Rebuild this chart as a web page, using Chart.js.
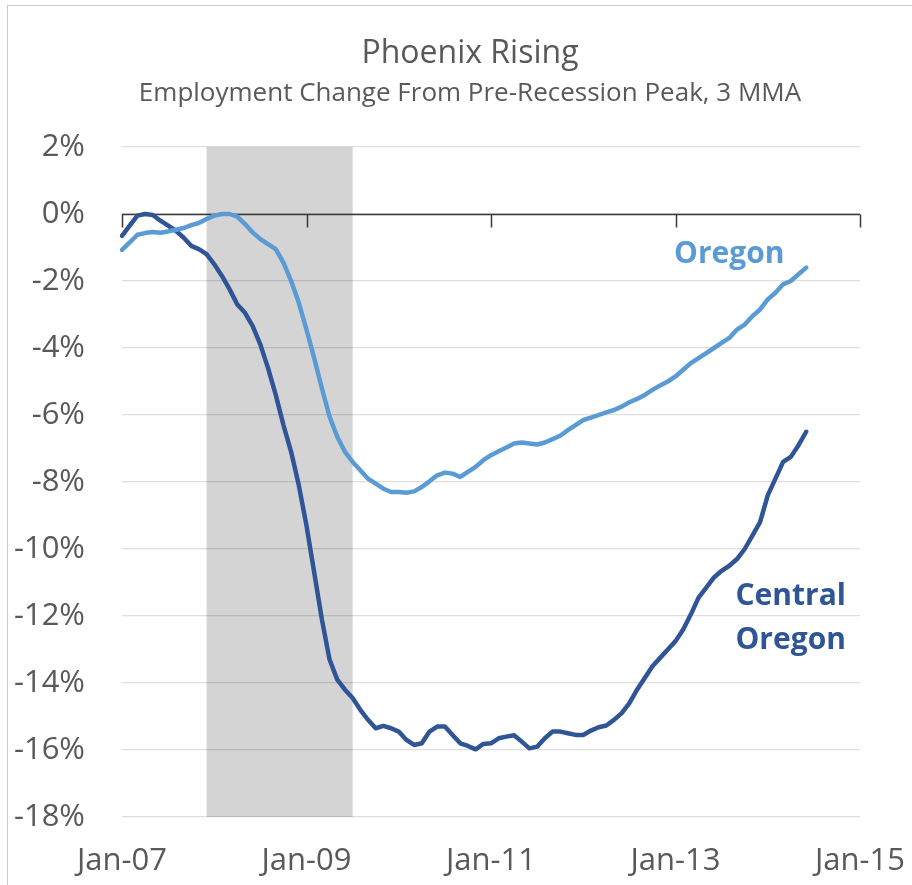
<!DOCTYPE html>
<html>
<head>
<meta charset="utf-8">
<title>Phoenix Rising</title>
<script src="https://cdn.jsdelivr.net/npm/chart.js@4.4.1/dist/chart.umd.min.js"></script>
<style>
    html, body { margin: 0; padding: 0; background: #fff; }
    body { position: relative; width: 912px; height: 885px; overflow: hidden; font-family: 'Open Sans', sans-serif; }
    .frame { position: absolute; left: 7px; top: 5px; width: 930px; height: 900px; border-top: 1px solid #cacaca; border-left: 1px solid #cacaca; }
    #chart { position: absolute; left: 0; top: 0; }
    .title { position: absolute; left: 0; width: 940px; text-align: center; color: #595959; white-space: nowrap; }
    .main { top: 35px; font-size: 32px; line-height: 32px; }
    .sub { top: 78px; font-size: 26px; line-height: 26px; }
</style>
</head>
<body>
<div class="frame"></div>
<canvas id="chart" width="912" height="885"></canvas>
<div class="title main">Phoenix Rising</div>
<div class="title sub">Employment Change From Pre-Recession Peak, 3 MMA</div>
<script>
// Monthly categories Jan-07 .. Jan-15
const monthNames = ['Jan', 'Feb', 'Mar', 'Apr', 'May', 'Jun', 'Jul', 'Aug', 'Sep', 'Oct', 'Nov', 'Dec'];
const months = [];
for (let yr = 7; yr <= 15; yr++) {
    for (let m = 0; m < 12; m++) {
        months.push(monthNames[m] + '-' + String(yr).padStart(2, '0'));
        if (yr === 15) break;
    }
}

const xTickLabels = ['Jan-07', 'Jan-09', 'Jan-11', 'Jan-13', 'Jan-15'];
const yTicks = [2, 0, -2, -4, -6, -8, -10, -12, -14, -16, -18];

// recession shading, Dec-07 through end of Jun-09
const recession = ['Dec-07', 'Jul-09'];

// % change from pre-recession peak, Jan-07 .. Jun-14
const oregon = [
    -1.07, -0.85, -0.62, -0.57, -0.54, -0.56, -0.52, -0.47, -0.42, -0.33, -0.27, -0.15,
    -0.05, 0.0, 0.0, -0.08, -0.3, -0.55, -0.75, -0.9, -1.05, -1.45, -2.0, -2.65,
    -3.45, -4.3, -5.2, -6.05, -6.65, -7.1, -7.4, -7.65, -7.9, -8.05, -8.2, -8.3,
    -8.3, -8.32, -8.28, -8.15, -7.98, -7.8, -7.72, -7.75, -7.85, -7.7, -7.55, -7.35,
    -7.2, -7.08, -6.97, -6.85, -6.82, -6.85, -6.88, -6.82, -6.72, -6.62, -6.45, -6.3,
    -6.15, -6.08, -6.0, -5.92, -5.85, -5.75, -5.62, -5.52, -5.4, -5.25, -5.12, -5.0,
    -4.85, -4.65, -4.45, -4.3, -4.15, -4.0, -3.85, -3.7, -3.45, -3.3, -3.05, -2.85,
    -2.55, -2.35, -2.1, -2.0, -1.8, -1.6
];

const centralOregon = [
    -0.65, -0.35, -0.05, 0.0, -0.03, -0.2, -0.35, -0.5, -0.7, -0.95, -1.05, -1.2,
    -1.5, -1.85, -2.25, -2.7, -2.95, -3.35, -3.9, -4.6, -5.4, -6.3, -7.1, -8.1,
    -9.3, -10.7, -12.1, -13.3, -13.9, -14.2, -14.45, -14.8, -15.1, -15.35, -15.28, -15.35,
    -15.45, -15.7, -15.85, -15.8, -15.45, -15.3, -15.3, -15.55, -15.8, -15.88, -15.98, -15.82,
    -15.8, -15.65, -15.6, -15.56, -15.75, -15.95, -15.9, -15.65, -15.45, -15.45, -15.5, -15.55,
    -15.55, -15.42, -15.32, -15.27, -15.1, -14.9, -14.6, -14.2, -13.85, -13.5, -13.25, -13.0,
    -12.75, -12.4, -11.95, -11.45, -11.15, -10.85, -10.65, -10.5, -10.3, -10.0, -9.6, -9.2,
    -8.4, -7.9, -7.4, -7.25, -6.9, -6.5
];

const textColor = '#595959';
const oregonColor = '#5B9BD5';
const centralColor = '#2F5597';

// grey band behind the gridlines
const recessionShade = {
    id: 'recessionShade',
    beforeDraw(chart) {
        const { ctx, chartArea, scales: { x } } = chart;
        const x0 = x.getPixelForValue(months.indexOf(recession[0]));
        const x1 = x.getPixelForValue(months.indexOf(recession[1]));
        ctx.save();
        ctx.fillStyle = '#D4D4D4';
        ctx.fillRect(x0, chartArea.top, x1 - x0, chartArea.bottom - chartArea.top);
        ctx.restore();
    }
};

// horizontal axis sits on the 0% line, tick marks hang below it
const zeroAxis = {
    id: 'zeroAxis',
    beforeDatasetsDraw(chart) {
        const { ctx, chartArea, scales: { x, y } } = chart;
        const y0 = Math.round(y.getPixelForValue(0)) + 0.5;
        ctx.save();
        ctx.strokeStyle = '#3a3a3a';
        ctx.lineWidth = 1.5;
        ctx.beginPath();
        ctx.moveTo(chartArea.left, y0);
        ctx.lineTo(chartArea.right, y0);
        xTickLabels.forEach(lbl => {
            const px = Math.round(x.getPixelForValue(months.indexOf(lbl))) + 0.5;
            ctx.moveTo(px, y0);
            ctx.lineTo(px, y0 + 13);
        });
        ctx.stroke();
        ctx.restore();
    }
};

// series names written next to the lines
const seriesLabels = {
    id: 'seriesLabels',
    afterDatasetsDraw(chart) {
        const { ctx, scales: { x, y } } = chart;
        ctx.save();
        ctx.font = 'bold 30px "Open Sans", sans-serif';
        ctx.textBaseline = 'middle';
        ctx.fillStyle = oregonColor;
        ctx.textAlign = 'center';
        ctx.fillText('Oregon', x.getPixelForValue(79), y.getPixelForValue(-1.22));
        ctx.fillStyle = centralColor;
        ctx.textAlign = 'left';
        ctx.fillText('Central', x.getPixelForValue(79.8), y.getPixelForValue(-11.43));
        ctx.fillText('Oregon', x.getPixelForValue(79.8), y.getPixelForValue(-12.72));
        ctx.restore();
    }
};

const canvas = document.getElementById('chart');
new Chart(canvas.getContext('2d'), {
    type: 'line',
    data: {
        labels: months,
        datasets: [{
            label: 'Oregon',
            data: oregon,
            borderColor: oregonColor,
            borderWidth: 4.5,
            pointRadius: 0,
            borderCapStyle: 'round',
            borderJoinStyle: 'round',
            tension: 0
        }, {
            label: 'Central Oregon',
            data: centralOregon,
            borderColor: centralColor,
            borderWidth: 4.5,
            pointRadius: 0,
            borderCapStyle: 'round',
            borderJoinStyle: 'round',
            tension: 0
        }]
    },
    options: {
        responsive: false,
        animation: false,
        devicePixelRatio: 1,
        layout: {
            padding: { top: 147, right: 52, bottom: 0, left: 0 }
        },
        plugins: {
            legend: { display: false },
            tooltip: { enabled: false },
            title: { display: false }
        },
        scales: {
            x: {
                offset: false,
                grid: { display: false, drawTicks: false },
                border: { display: false },
                ticks: {
                    autoSkip: false,
                    maxRotation: 0,
                    minRotation: 0,
                    padding: 26,
                    color: textColor,
                    font: { family: 'Open Sans', size: 31 },
                    callback: function(value, index) {
                        const lbl = months[index];
                        return xTickLabels.includes(lbl) ? lbl : '';
                    }
                },
                afterFit: function(scale) {
                    // the end labels fit inside the fixed padding, keep the plot edges put
                    scale.height = 68;
                    scale.paddingLeft = 0;
                    scale.paddingRight = 0;
                }
            },
            y: {
                min: Math.min(...yTicks),
                max: Math.max(...yTicks),
                grid: {
                    color: 'rgba(0, 0, 0, 0.13)',
                    lineWidth: 1.3,
                    drawTicks: false
                },
                border: { display: false },
                ticks: {
                    stepSize: 2,
                    padding: 37,
                    color: textColor,
                    font: { family: 'Open Sans', size: 31 },
                    callback: value => value + '%'
                },
                afterFit: function(scale) {
                    scale.width = 122;
                }
            }
        }
    },
    plugins: [recessionShade, zeroAxis, seriesLabels]
});
</script>
</body>
</html>
